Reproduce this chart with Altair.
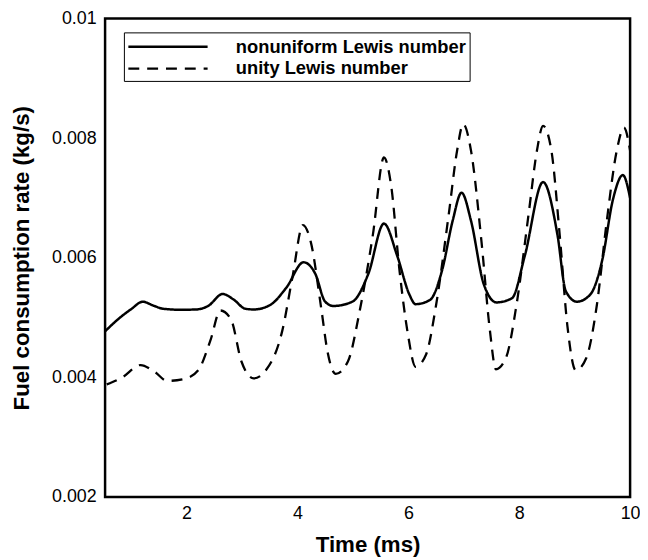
import altair as alt
import pandas as pd

series_names = ["nonuniform Lewis number", "unity Lewis number"]

t_nonuni = [0.53, 0.8, 1.0, 1.21, 1.4, 1.58, 1.9, 2.17, 2.39, 2.65, 2.85, 3.06, 3.21, 3.5, 3.8, 4.11,
            4.32, 4.5, 4.65, 4.99, 5.28, 5.56, 5.8, 6.02, 6.13, 6.39, 6.61, 6.8, 6.96, 7.13, 7.36,
            7.59, 7.87, 8.1, 8.43, 8.69, 8.84, 9.04, 9.28, 9.5, 9.69, 9.87, 10.0]
v_nonuni = [0.00477, 0.00500, 0.00514, 0.005265, 0.00520, 0.005147, 0.00513, 0.005135, 0.005194, 0.005394,
            0.00530, 0.005147, 0.005135, 0.005206, 0.0055, 0.005924,
            0.005735, 0.005265, 0.005194, 0.005265, 0.005735, 0.006571, 0.00603, 0.005383, 0.005224,
            0.005294, 0.005794, 0.00662, 0.007088, 0.00662, 0.005559,
            0.005253, 0.005324, 0.00603, 0.007265, 0.006383, 0.005442, 0.005265, 0.005383, 0.005971,
            0.006971, 0.007382, 0.0070]

t_unity = [0.56, 0.84, 1.17, 1.43, 1.65, 1.95, 2.21, 2.43, 2.61, 2.8, 2.99, 3.21, 3.43, 3.73, 3.91,
           4.1, 4.24, 4.43, 4.54, 4.69, 4.91, 5.13, 5.36, 5.56, 5.69, 5.84, 5.99, 6.13, 6.32, 6.5,
           6.73, 6.88, 6.99, 7.13, 7.32, 7.47, 7.58, 7.76, 7.95, 8.17, 8.32, 8.43, 8.58, 8.73, 8.87,
           9.02, 9.21, 9.4, 9.58, 9.76, 9.89, 10.0]
v_unity = [0.003882, 0.0040, 0.004206, 0.004088, 0.003941, 0.003971, 0.004118, 0.004618, 0.005118,
           0.004971, 0.004265, 0.003983, 0.004118, 0.004794, 0.005676,
           0.006547, 0.006265, 0.005147, 0.004441, 0.004059, 0.004265, 0.005147, 0.006382, 0.007676,
           0.007206, 0.005794, 0.004735, 0.004176, 0.004382, 0.005206,
           0.006735, 0.007794, 0.008235, 0.007794, 0.006265, 0.004794, 0.004135, 0.004324, 0.005206,
           0.006735, 0.007794, 0.008206, 0.007794, 0.006383, 0.004853,
           0.004118, 0.004324, 0.005206, 0.006618, 0.007794, 0.008176, 0.007794]

x_ticks = [2, 4, 6, 8, 10]
y_ticks = [0.002, 0.004, 0.006, 0.008, 0.01]

df = pd.concat([
    pd.DataFrame({"t": t_nonuni, "v": v_nonuni, "series": series_names[0], "order": range(len(t_nonuni))}),
    pd.DataFrame({"t": t_unity, "v": v_unity, "series": series_names[1], "order": range(len(t_unity))}),
])

FONT = "Liberation Sans"

legend = alt.Legend(
    title=None, orient="none", legendX=19, legendY=14,
    symbolType="M-1,0H7", symbolSize=400,
    symbolStrokeWidth=2.5, symbolStrokeColor="black",
    labelFont=FONT, labelFontSize=18.5, labelFontWeight="bold",
    labelColor="black", labelOffset=87, labelLimit=0,
    strokeColor="black", fillColor="white", padding=3, rowPadding=1,
)

chart = alt.Chart(df).mark_line(interpolate="monotone", color="black", clip=True).encode(
    x=alt.X("t:Q", scale=alt.Scale(domain=[0.53, 10], nice=False, zero=False),
            axis=alt.Axis(values=x_ticks, title="Time (ms)", labelPadding=8, titlePadding=11,
                          labelFlush=False)),
    y=alt.Y("v:Q", scale=alt.Scale(domain=[0.002, 0.01], nice=False, zero=False),
            axis=alt.Axis(values=y_ticks, format="~g", title="Fuel consumption rate (kg/s)",
                          labelPadding=9, titlePadding=18, labelFlush=False)),
    strokeDash=alt.StrokeDash("series:N",
                              scale=alt.Scale(domain=series_names, range=[[1, 0], [11, 8]]),
                              legend=legend),
    strokeWidth=alt.StrokeWidth("series:N",
                                scale=alt.Scale(domain=series_names, range=[2.5, 2.3]),
                                legend=None),
    order="order:Q",
).properties(
    width=530, height=483,
    autosize=alt.AutoSizeParams(type="none"),
    padding={"left": 98, "top": 8, "right": 10, "bottom": 60},
).configure_view(
    stroke="black", strokeWidth=2.5
).configure_axis(
    ticks=False, domain=False, grid=False,
    labelFont=FONT, labelFontSize=18, labelColor="black",
    titleFont=FONT, titleFontSize=22.5, titleFontWeight="bold", titleColor="black",
)

chart.save("out.html", embed_options={"renderer": "svg", "actions": False})
